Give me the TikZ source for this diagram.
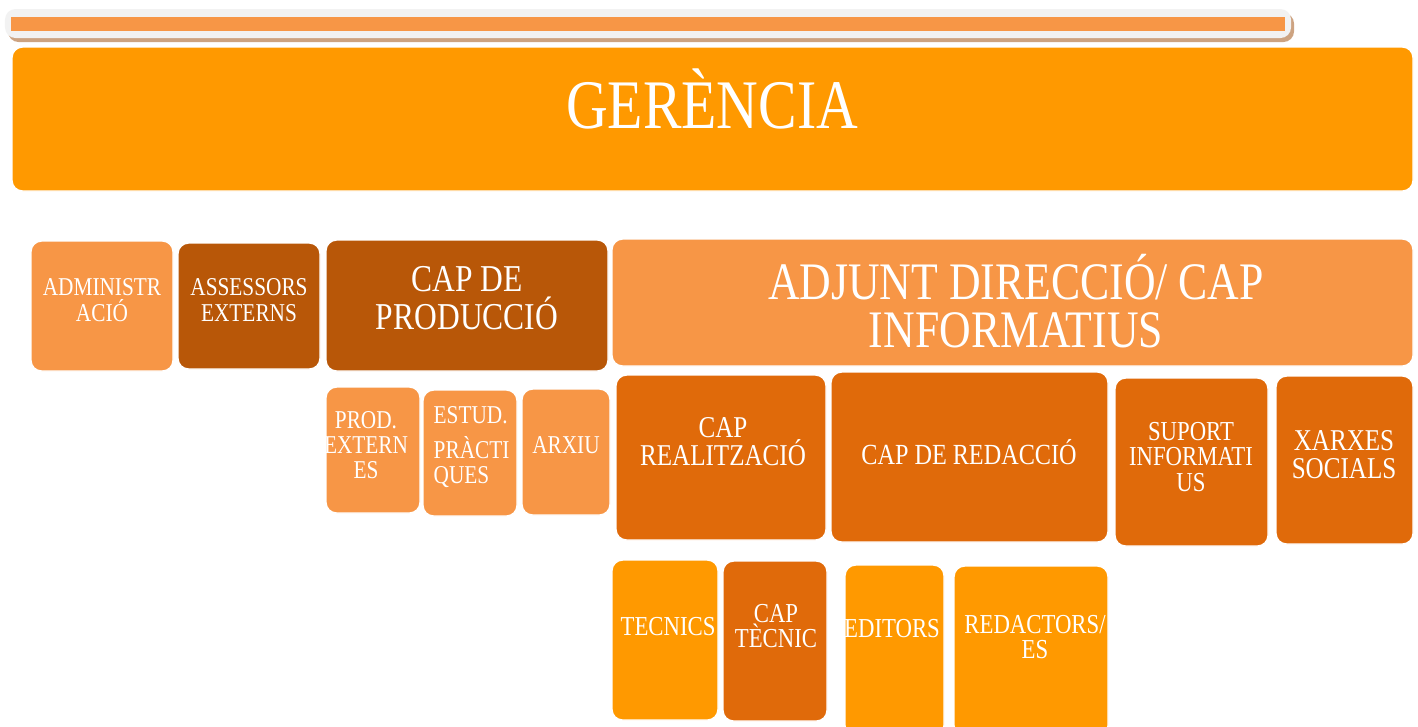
\documentclass[tikz,border=0pt]{standalone}
\usepackage{fontspec}
\setmainfont{Liberation Serif}[FakeStretch=0.83]
\definecolor{OrgOrange}{HTML}{FF9900}
\definecolor{OrgLight}{HTML}{F79646}
\definecolor{OrgMid}{HTML}{E06A0A}
\definecolor{OrgDark}{HTML}{B85708}
\definecolor{BarGray}{HTML}{F2F2F2}
\definecolor{BarShadow}{HTML}{CDA381}
\tikzset{
  orgbox/.style={rounded corners=3pt, draw=white, line width=0.4pt, inner sep=0pt},
  orgtext/.style={text=white, align=center, inner sep=0pt},
}
\begin{document}
\begin{tikzpicture}
  \useasboundingbox (0,0) rectangle (14.18,-7.26);
  % Top bar
  \node[orgbox, draw=none, fill=BarShadow, minimum width=12.86cm, minimum height=0.29cm] (barshadow) at (6.51,-0.275) {};
  \node[orgbox, draw=none, fill=BarGray, minimum width=12.86cm, minimum height=0.29cm] (bar) at (6.48,-0.235) {};
  \node[fill=OrgLight, inner sep=0pt, minimum width=12.73cm, minimum height=0.14cm] (barinner) at (bar.center) {};

  % Gerencia
  \node[orgbox, fill=OrgOrange, minimum width=14.01cm, minimum height=1.44cm] (ger) at (7.125,-1.19) {};
  \node[orgtext, font=\fontsize{19.8}{20}\selectfont] (ger-t) at (7.12,-0.99) {GERÈNCIA};

  % Second row
  \node[orgbox, fill=OrgLight, minimum width=1.42cm, minimum height=1.30cm] (adm) at (1.02,-3.06) {};
  \node[orgbox, fill=OrgDark, minimum width=1.42cm, minimum height=1.26cm] (ases) at (2.49,-3.06) {};
  \node[orgbox, fill=OrgDark, minimum width=2.82cm, minimum height=1.31cm] (prod) at (4.67,-3.055) {};
  \node[orgbox, fill=OrgLight, minimum width=8.01cm, minimum height=1.27cm] (adj) at (10.125,-3.025) {};
  \node[orgtext, font=\fontsize{7.3}{7.5}\selectfont] (adm-t) at (1.02,-3.00) {ADMINISTR\\ACIÓ};
  \node[orgtext, font=\fontsize{7.3}{7.5}\selectfont] (ases-t) at (2.49,-3.00) {ASSESSORS\\EXTERNS};
  \node[orgtext, font=\fontsize{10.8}{10.9}\selectfont] (prod-t) at (4.67,-2.98) {CAP DE\\PRODUCCIÓ};
  \node[orgtext, font=\fontsize{15}{13.6}\selectfont] (adj-t) at (10.16,-3.01) {ADJUNT DIRECCIÓ/ CAP\\INFORMATIUS};

  % Third row
  \node[orgbox, fill=OrgLight, minimum width=0.94cm, minimum height=1.26cm] (pext) at (3.73,-4.50) {};
  \node[orgbox, fill=OrgLight, minimum width=0.94cm, minimum height=1.26cm] (estud) at (4.70,-4.53) {};
  \node[orgbox, fill=OrgLight, minimum width=0.88cm, minimum height=1.26cm] (arxiu) at (5.66,-4.52) {};
  \node[orgbox, fill=OrgMid, minimum width=2.10cm, minimum height=1.65cm] (creal) at (7.21,-4.575) {};
  \node[orgbox, fill=OrgMid, minimum width=2.77cm, minimum height=1.70cm] (credac) at (9.695,-4.57) {};
  \node[orgbox, fill=OrgMid, minimum width=1.53cm, minimum height=1.68cm] (suport) at (11.915,-4.62) {};
  \node[orgbox, fill=OrgMid, minimum width=1.37cm, minimum height=1.68cm] (xarxes) at (13.445,-4.60) {};
  \node[orgtext, font=\fontsize{7.3}{7.2}\selectfont] (pext-t) at (3.66,-4.45) {PROD.\\EXTERN\\ES};
  \node[orgtext, align=left, anchor=west, font=\fontsize{7.3}{7}\selectfont] (estud-t) at (4.33,-4.47) {ESTUD.\\[3pt]PRÀCTI\\QUES};
  \node[orgtext, font=\fontsize{7.3}{7.5}\selectfont] (arxiu-t) at (5.66,-4.45) {ARXIU};
  \node[orgtext, font=\fontsize{8.6}{8}\selectfont] (creal-t) at (7.23,-4.42) {CAP\\REALITZACIÓ};
  \node[orgtext, font=\fontsize{8.3}{8}\selectfont] (credac-t) at (9.69,-4.52) {CAP DE REDACCIÓ};
  \node[orgtext, font=\fontsize{7.8}{7.2}\selectfont] (suport-t) at (11.91,-4.57) {SUPORT\\INFORMATI\\US};
  \node[orgtext, font=\fontsize{8.6}{8}\selectfont] (xarxes-t) at (13.44,-4.55) {XARXES\\SOCIALS};

  % Fourth row
  \node[orgbox, fill=OrgOrange, minimum width=1.06cm, minimum height=1.60cm] (tecnics) at (6.65,-6.40) {};
  \node[orgbox, fill=OrgMid, minimum width=1.04cm, minimum height=1.60cm] (ctec) at (7.75,-6.41) {};
  \node[orgbox, fill=OrgOrange, minimum width=0.99cm, minimum height=1.71cm] (editors) at (8.945,-6.505) {};
  \node[orgbox, fill=OrgOrange, minimum width=1.54cm, minimum height=1.70cm] (redact) at (10.31,-6.51) {};
  \node[orgtext, font=\fontsize{7.8}{7.5}\selectfont] (tecnics-t) at (6.68,-6.27) {TECNICS};
  \node[orgtext, font=\fontsize{7.8}{7.2}\selectfont] (ctec-t) at (7.76,-6.26) {CAP\\TÈCNIC};
  \node[orgtext, font=\fontsize{7.8}{7.5}\selectfont] (editors-t) at (8.92,-6.29) {EDITORS};
  \node[orgtext, font=\fontsize{7.8}{7.2}\selectfont] (redact-t) at (10.35,-6.37) {REDACTORS/\\ES};
\end{tikzpicture}
\end{document}
